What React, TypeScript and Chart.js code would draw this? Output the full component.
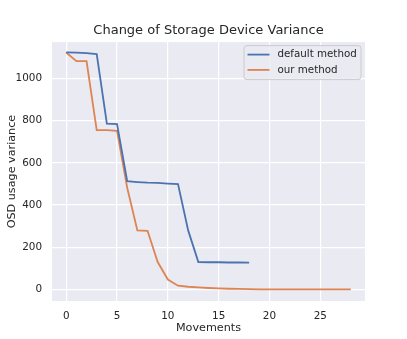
import React, { useEffect, useRef } from "react";
import { Chart, registerables } from "chart.js";

Chart.register(...registerables);

const defaultMoves = [0, 1, 2, 3, 4, 5, 6, 7, 8, 9, 10, 11, 12, 13, 14, 15, 16, 17, 18];
const defaultVariance = [1123, 1122, 1120, 1115, 786, 783, 513, 509, 506, 505, 502, 499, 280, 130, 129, 129, 128, 128, 127];

const ourMoves = [0, 1, 2, 3, 4, 5, 6, 7, 8, 9, 10, 11, 12, 13, 14, 15, 16, 17, 18, 19, 20, 21, 22, 23, 24, 25, 26, 27, 28];
const ourVariance = [1123, 1082, 1082, 755, 755, 752, 482, 280, 278, 130, 47, 18, 13, 10, 7, 5, 3.5, 2.5, 1.5, 1, 0.8, 0.6, 0.5, 0.4, 0.3, 0.3, 0.2, 0.2, 0.2];

const xTicks = [0, 5, 10, 15, 20, 25];
const yTicks = [0, 200, 400, 600, 800, 1000];

const seriesLabels = ["default method", "our method"];
const seriesColors = ["#4C72B0", "#DD8452"];

const FONT = "'DejaVu Sans', sans-serif";
const TEXT = "#262626";

const bgPlugin = {
  id: "axesBg",
  beforeDraw(chart: any) {
    const { ctx, chartArea } = chart;
    ctx.save();
    ctx.fillStyle = "#EAEAF2";
    ctx.fillRect(chartArea.left, chartArea.top, chartArea.right - chartArea.left, chartArea.bottom - chartArea.top);
    ctx.restore();
  },
};

const legendPlugin = {
  id: "insideLegend",
  afterDraw(chart: any) {
    const { ctx, chartArea } = chart;
    const w = 117;
    const h = 34;
    const x = chartArea.right - 4 - w;
    const y = chartArea.top + 3.5;
    ctx.save();
    ctx.beginPath();
    const r = 3;
    ctx.moveTo(x + r, y);
    ctx.lineTo(x + w - r, y);
    ctx.quadraticCurveTo(x + w, y, x + w, y + r);
    ctx.lineTo(x + w, y + h - r);
    ctx.quadraticCurveTo(x + w, y + h, x + w - r, y + h);
    ctx.lineTo(x + r, y + h);
    ctx.quadraticCurveTo(x, y + h, x, y + h - r);
    ctx.lineTo(x, y + r);
    ctx.quadraticCurveTo(x, y, x + r, y);
    ctx.closePath();
    ctx.fillStyle = "rgba(234,234,242,0.8)";
    ctx.fill();
    ctx.strokeStyle = "#cccccc";
    ctx.lineWidth = 1;
    ctx.stroke();
    chart.data.datasets.forEach((ds: any, i: number) => {
      const ly = y + 9 + i * 15.3;
      ctx.beginPath();
      ctx.moveTo(x + 3.5, ly);
      ctx.lineTo(x + 25.5, ly);
      ctx.strokeStyle = ds.borderColor;
      ctx.lineWidth = 1.8;
      ctx.stroke();
      ctx.fillStyle = TEXT;
      ctx.font = `10.3px ${FONT}`;
      ctx.textBaseline = "middle";
      ctx.textAlign = "left";
      ctx.fillText(ds.label, x + 33.5, ly);
    });
    ctx.restore();
  },
};

export default function App() {
  const ref = useRef<HTMLCanvasElement>(null);
  useEffect(() => {
    if (!ref.current) return;
    const chart = new Chart(ref.current, {
      type: "line",
      data: {
        datasets: [
          {
            label: seriesLabels[0],
            data: defaultMoves.map((m, i) => ({ x: m, y: defaultVariance[i] })),
            borderColor: seriesColors[0],
            backgroundColor: seriesColors[0],
            borderWidth: 1.8,
            pointRadius: 0,
            tension: 0,
          },
          {
            label: seriesLabels[1],
            data: ourMoves.map((m, i) => ({ x: m, y: ourVariance[i] })),
            borderColor: seriesColors[1],
            backgroundColor: seriesColors[1],
            borderWidth: 1.8,
            pointRadius: 0,
            tension: 0,
          },
        ],
      },
      options: {
        responsive: false,
        animation: false,
        layout: { padding: { left: 0, right: 42, top: 0, bottom: 0 } },
        plugins: {
          legend: { display: false },
          tooltip: { enabled: false },
          title: {
            display: true,
            text: "Change of Storage Device Variance",
            fullSize: false,
            color: TEXT,
            font: { family: FONT, size: 13, weight: "normal", lineHeight: 1.2 },
            padding: { top: 22.5, bottom: 4 },
          },
        },
        scales: {
          x: {
            type: "linear",
            min: -1.4,
            max: 29.4,
            afterBuildTicks: (s: any) => {
              s.ticks = xTicks.map((v) => ({ value: v }));
            },
            afterFit: (s: any) => {
              s.height = 38;
            },
            grid: { color: "#ffffff", lineWidth: 1.2, drawTicks: false },
            border: { display: false },
            ticks: {
              color: TEXT,
              font: { family: FONT, size: 10.4 },
              padding: 9,
              maxRotation: 0,
              callback: (v: any) => String(v),
            },
            title: {
              display: true,
              text: "Movements",
              color: TEXT,
              font: { family: FONT, size: 11.2, lineHeight: 1.2 },
              padding: { top: 0, bottom: 4.5 },
            },
          },
          y: {
            type: "linear",
            min: -54.5,
            max: 1172,
            afterBuildTicks: (s: any) => {
              s.ticks = yTicks.map((v) => ({ value: v }));
            },
            afterFit: (s: any) => {
              s.width = 52;
            },
            grid: { color: "#ffffff", lineWidth: 1.2, drawTicks: false },
            border: { display: false },
            ticks: {
              color: TEXT,
              font: { family: FONT, size: 10.4 },
              padding: 10,
              callback: (v: any) => String(v),
            },
            title: {
              display: true,
              text: "OSD usage variance",
              color: TEXT,
              font: { family: FONT, size: 11.2, lineHeight: 1.2 },
              padding: { top: 5, bottom: 0 },
            },
          },
        },
      },
      plugins: [bgPlugin, legendPlugin],
    });
    return () => chart.destroy();
  }, []);
  return (
    <div style={{ position: "absolute", left: 0, top: 0, width: 407, height: 339, background: "#ffffff" }}>
      <canvas ref={ref} width={407} height={339} />
    </div>
  );
}
